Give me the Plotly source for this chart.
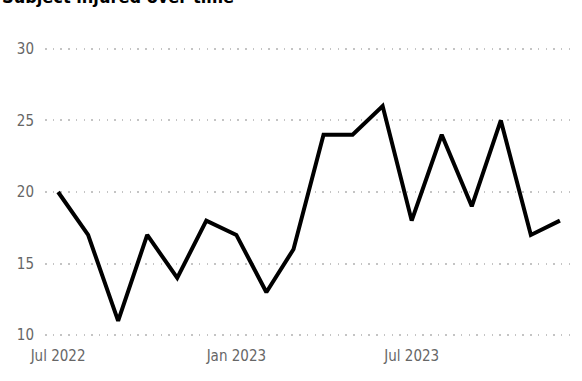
import plotly.graph_objects as go

# Monthly counts of injured subjects
months = ["2022-07-01", "2022-08-01", "2022-09-01", "2022-10-01", "2022-11-01", "2022-12-01",
          "2023-01-01", "2023-02-01", "2023-03-01", "2023-04-01", "2023-05-01", "2023-06-01",
          "2023-07-01", "2023-08-01", "2023-09-01", "2023-10-01", "2023-11-01", "2023-12-01"]
injured = [20, 17, 11, 17, 14, 18, 17, 13, 16, 24, 24, 26, 18, 24, 19, 25, 17, 18]

x_ticks = ["2022-07-01", "2023-01-01", "2023-07-01"]
x_tick_text = ["Jul 2022", "Jan 2023", "Jul 2023"]
y_ticks = [10, 15, 20, 25, 30]

NARROW = "DejaVu Sans Condensed, Liberation Sans Narrow, Roboto, sans-serif"
TICK_FONT = dict(family=NARROW, size=15, color="#666666")

fig = go.Figure(
    go.Scatter(
        x=months,
        y=injured,
        mode="lines",
        line=dict(color="#000000", width=4),
        hoverinfo="x+y",
    )
)

fig.update_layout(
    width=582,
    height=381,
    margin=dict(l=45, r=9, t=46, b=43),
    paper_bgcolor="white",
    plot_bgcolor="white",
    showlegend=False,
    annotations=[
        dict(
            text="<b>Subject injured over time</b>",
            xref="paper", yref="paper",
            x=0, y=1,
            xanchor="left", yanchor="bottom",
            xshift=-45, yshift=37,
            showarrow=False,
            font=dict(family=NARROW, size=18, color="#000000"),
        )
    ],
)

fig.update_xaxes(
    type="date",
    range=["2022-06-17 12:00", "2023-12-14 12:00"],
    tickvals=x_ticks,
    ticktext=x_tick_text,
    showgrid=False,
    zeroline=False,
    showline=False,
    ticks="",
    ticklabelstandoff=7,
    tickfont=TICK_FONT,
)

# pad the range a little so the 10 and 30 gridlines are kept
fig.update_yaxes(
    range=[9.8, 30.2],
    tickvals=y_ticks,
    showgrid=True,
    gridcolor="#C4C4C4",
    gridwidth=1.5,
    griddash="1.5px,6.2px",
    zeroline=False,
    showline=False,
    ticks="",
    ticklabelstandoff=10,
    tickfont=TICK_FONT,
)

fig.write_html("out.html")
